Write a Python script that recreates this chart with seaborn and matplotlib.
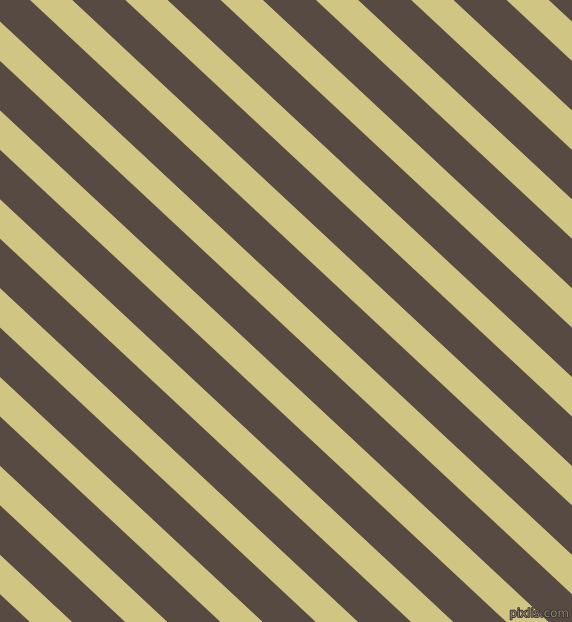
import numpy as np
import matplotlib
matplotlib.use("Agg")
import matplotlib.pyplot as plt
import matplotlib.patheffects as pe
import seaborn as sns

# Stripe pattern definition
stripe_colors = ["#d0c582", "#574a42"]   # yellow, dark brown
stripe_widths = [29.0, 36.0]             # perpendicular widths in px
angle_deg = 43.0                         # stripe angle from horizontal (descending to the right)
start_offset = 30.0                      # x on top edge where a yellow stripe begins
watermark = "pixlis.com"

W, H = 572, 622

sns.set_theme(style="white")
fig = plt.figure(figsize=(W / 100, H / 100), dpi=100)
ax = fig.add_axes([0, 0, 1, 1])
ax.set_xlim(0, W)
ax.set_ylim(H, 0)
ax.axis("off")
fig.patch.set_facecolor(stripe_colors[1])

theta = np.deg2rad(angle_deg)
slope = np.tan(theta)
hw = [w / np.sin(theta) for w in stripe_widths]  # horizontal widths
period = sum(hw)

x = np.array([-50.0, W + 50.0])
u = start_offset - period * 12
while u < W + 50:
    pos = u
    for color, w in zip(stripe_colors, hw):
        y_upper = slope * (x - pos - w)
        y_lower = slope * (x - pos)
        ax.fill_between(x, y_upper, y_lower, color=color, linewidth=0, antialiased=True)
        pos += w
    u += period

ax.set_xlim(0, W)
ax.set_ylim(H, 0)

ax.text(W - 3, H - 2, watermark, ha="right", va="bottom", fontsize=8.5,
        color="#8c8474", family="DejaVu Sans",
        path_effects=[pe.withStroke(linewidth=1.2, foreground="#3a322c")])

fig.savefig("out.png", dpi=100)
